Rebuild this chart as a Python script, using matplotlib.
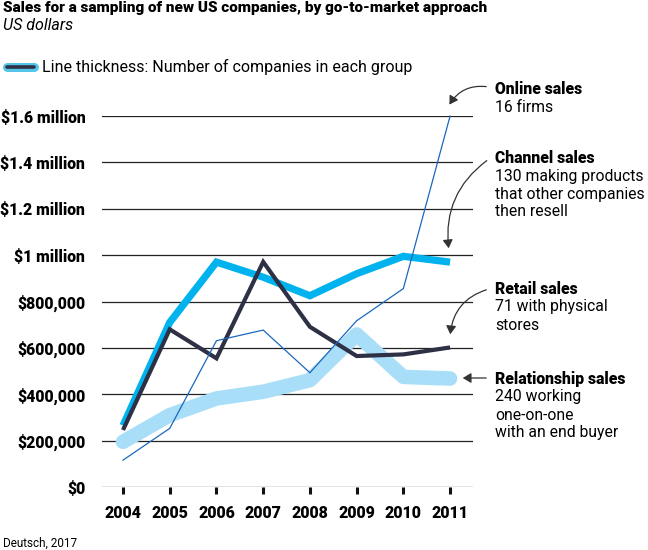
import matplotlib
matplotlib.use("Agg")
import matplotlib.pyplot as plt
from matplotlib.lines import Line2D

years = [2004, 2005, 2006, 2007, 2008, 2009, 2010, 2011]
online = [116000, 253000, 631000, 677000, 493000, 717000, 856000, 1600000]
channel = [265000, 710000, 970000, 905000, 825000, 920000, 995000, 970000]
retail = [246000, 680000, 555000, 971000, 691000, 565000, 572000, 602000]
relationship = [195000, 310000, 382000, 411000, 461000, 658000, 475000, 468000]
y_ticks = [0, 200000, 400000, 600000, 800000, 1000000, 1200000, 1400000, 1600000]
y_labels = ["$0", "$200,000", "$400,000", "$600,000", "$800,000",
            "$1 million", "$1.2 million", "$1.4 million", "$1.6 million"]

FONT = ["Roboto", "DejaVu Sans"]
plt.rcParams['font.family'] = FONT

fig = plt.figure(figsize=(6.48, 5.5), dpi=100)
ax = fig.add_axes([0.1574, 0.1145, 0.5725, 0.6745])

C_REL = "#A9DEF8"
C_CH = "#00B2EE"
C_RET = "#2E3045"
C_ON = "#1A68BE"

for y in y_ticks:
    ax.axhline(y, color="#222222", lw=0.9, zorder=1)

ax.plot(years, relationship, color=C_REL, lw=10.5, solid_capstyle="round",
        solid_joinstyle="round", zorder=2, clip_on=False)
ax.plot(years, channel, color=C_CH, lw=5.2, solid_capstyle="butt",
        solid_joinstyle="miter", zorder=3, clip_on=False)
ax.plot(years, retail, color=C_RET, lw=3.0, solid_capstyle="butt",
        solid_joinstyle="miter", zorder=4, clip_on=False)
ax.plot(years, online, color=C_ON, lw=0.9, zorder=5, clip_on=False)

ax.set_xlim(2003.55, 2011.49)
ax.set_ylim(0, 1600000)
ax.set_yticks(y_ticks)
ax.set_yticklabels(y_labels, fontsize=11.3, fontweight="black")
ax.set_xticks(years)
ax.set_xticklabels([str(y) for y in years], fontsize=11.5, fontweight="black")
ax.tick_params(axis="y", length=0, pad=12)
ax.tick_params(axis="x", length=5, width=2.2, color="#111111", pad=8, direction="out")
for s in ax.spines.values():
    s.set_visible(False)

# Title area
fig.text(3/648, 1 - 8/550, "Sales for a sampling of new US companies, by go-to-market approach",
         fontsize=11, fontweight="black", va="center", ha="left")
fig.text(3/648, 1 - 25/550, "US dollars", fontsize=11.5, style="italic", va="center", ha="left")

# Legend sample
fig.add_artist(Line2D([7/648, 34/648], [1 - 67/550, 1 - 67/550], color="#55C6EA",
                      lw=6.5, solid_capstyle="round"))
fig.add_artist(Line2D([7/648, 34/648], [1 - 67/550, 1 - 67/550], color=C_RET,
                      lw=2.6, solid_capstyle="round"))
fig.text(42/648, 1 - 67/550, "Line thickness: Number of companies in each group",
         fontsize=11.5, va="center", ha="left")

# Annotations
def label(ypix, title, lines):
    fig.text(495/648, 1 - ypix/550, title, fontsize=11.3, fontweight="black",
             va="center", ha="left")
    for i, t in enumerate(lines):
        fig.text(495/648, 1 - (ypix + 18 * (i + 1))/550, t, fontsize=11.3,
                 va="center", ha="left")

label(89, "Online sales", ["16 firms"])
label(158, "Channel sales", ["130 making products", "that other companies", "then resell"])
label(289, "Retail sales", ["71 with physical", "stores"])
label(379, "Relationship sales", ["240 working", "one-on-one", "with an end buyer"])

def arrow(x0, y0, x1, y1, rad):
    fig.add_artist(matplotlib.patches.FancyArrowPatch(
        (x0/648, 1 - y0/550), (x1/648, 1 - y1/550), transform=fig.transFigure,
        arrowstyle="-|>,head_length=5,head_width=3", mutation_scale=1,
        connectionstyle=f"arc3,rad={rad}", color="#333333", lw=0.9))

arrow(489, 87, 448, 107, 0.35)
arrow(489, 159, 449, 251, 0.3)
arrow(489, 289, 450, 337, 0.35)
arrow(489, 378, 460, 378, 0.0)

fig.text(3/648, 1 - 543/550, "Deutsch, 2017", fontsize=8.5, va="center", ha="left")

fig.savefig("out.png", dpi=100, facecolor="white")
